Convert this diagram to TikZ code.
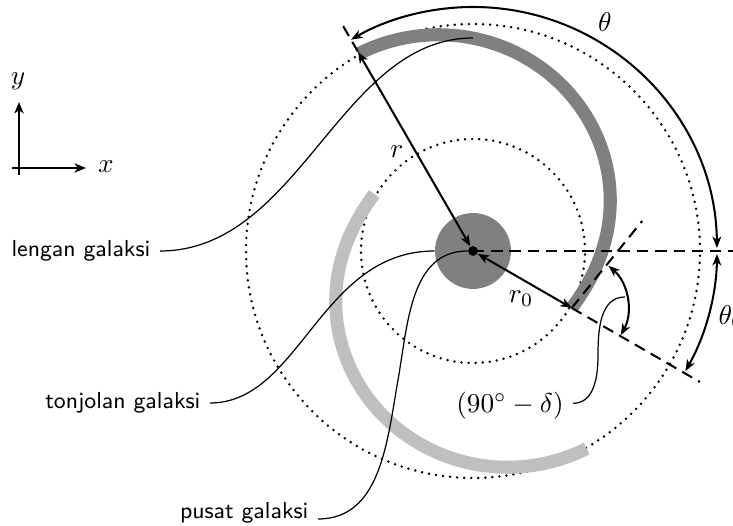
\documentclass[tikz,border=0pt]{standalone}
\usetikzlibrary{arrows.meta}
\begin{document}
\begin{tikzpicture}[x=0.3676pt,y=0.3676pt,
  leader/.style={line width=0.45pt},
  dim/.style={line width=0.75pt},
  dimarrow/.style={dim,{Stealth[length=4.2pt,width=3.2pt,inset=1.2pt]}-{Stealth[length=4.2pt,width=3.2pt,inset=1.2pt]}},
  axarrow/.style={line width=0.9pt,-{Stealth[length=4.2pt,width=3.4pt,inset=1.2pt]}},
  dashline/.style={line width=0.75pt,dash pattern=on 4.2pt off 2.5pt},
  dotcircle/.style={line width=1pt,line cap=round,dash pattern=on 0pt off 2.6pt},
  arm/.style={line width=4.8pt},
  lab/.style={font=\sffamily\fontsize{8.5}{10.5}\selectfont}]
\useasboundingbox (-473,-275) rectangle (260,251);
% dotted circles
\draw[dotcircle] (0,0) circle[radius=227];
\draw[dotcircle] (0,0) circle[radius=112];
% arms
\draw[arm,gray] plot[domain=0:1,samples=80,variable=\t]
  ({-30+150*\t}:{114+114*(0.7*(3*\t*\t-2*\t*\t*\t)+0.3*\t)});
\draw[arm,lightgray] plot[domain=0:1,samples=80,variable=\t]
  ({150+150*\t}:{114+114*(0.7*(3*\t*\t-2*\t*\t*\t)+0.3*\t)});
% bulge
\node[circle,fill=gray,inner sep=0pt,minimum size=27.9pt] (bulge) at (0,0) {};
% coordinates
\coordinate (C) at (0,0);
\coordinate (R0) at (-30:114);
\coordinate (Rtip) at (120:230);
\coordinate (Rdash) at (120:263);
\coordinate (R0dash) at (-30:262);
\coordinate (Tan) at ([shift={(51:112)}]R0);
\coordinate (Hend) at (270,0);
\coordinate (armpt) at (0,213);
\coordinate (dend) at (152,-46);
\coordinate (pmid) at (-75,-129);
\coordinate (dmid) at (125,-104);
\coordinate (A0) at (0.7:244);
\coordinate (Am) at (-0.7:244);
\coordinate (D0) at ([shift={(-29:56)}]R0);
\coordinate (axy) at (-454,149);
\coordinate (axyb) at (-454,76);
\coordinate (axxl) at (-461,83);
\coordinate (axx) at (-387,83);
% dashed lines
\draw[dashline] (C) -- (Hend);
\draw[dashline] (R0) -- (R0dash);
\draw[dashline] (R0) -- (Tan);
\draw[dashline] (Rtip) -- (Rdash);
% centre dot
\node[circle,fill=black,inner sep=0pt,minimum size=3.6pt] (O) at (0,0) {};
% dimension arrows
\draw[dimarrow] (O) -- (Rtip);
\draw[dimarrow] (O) -- (R0);
\draw[dimarrow] (A0) arc[start angle=0.7,end angle=120,radius=244];
\draw[dimarrow] (Am) arc[start angle=-0.7,end angle=-29.5,radius=244];
\draw[dimarrow] (D0) arc[start angle=-29,end angle=49,radius=56];
% math labels
\node (th) at (132,229) {$\theta$};
\node[anchor=west] (th0) at (236,-66) {$\theta_0$};
\node (rl) at (-76,99) {$r$};
\node (r0l) at (48,-48) {$r_0$};
\node (dlab) at (37,-155) {$(90^\circ-\delta)$};
% axes
\draw[axarrow] (axyb) -- (axy);
\draw[axarrow] (axxl) -- (axx);
\node (ylab) at (-455,170) {$y$};
\node (xlab) at (-367,84) {$x$};
% text labels and leaders
\node[lab,anchor=east] (lengan) at (-313,0) {lengan galaksi};
\node[lab,anchor=east] (tonjolan) at (-263,-152) {tonjolan galaksi};
\node[lab,anchor=base east] (pusat) at (-155,-268) {pusat galaksi};
\draw[leader] (lengan.east) .. controls (-173,0) and (-133,213) .. (armpt);
\draw[leader] (tonjolan.east) .. controls (-173,-152) and (-153,0) .. (bulge.west);
\draw[leader] (pusat.base east) to[out=0,in=260] (pmid) to[out=80,in=180] (O.west);
\draw[leader] ([yshift=1pt]dlab.east) to[out=0,in=270] (dmid) to[out=90,in=180] (dend);
\end{tikzpicture}
\end{document}
